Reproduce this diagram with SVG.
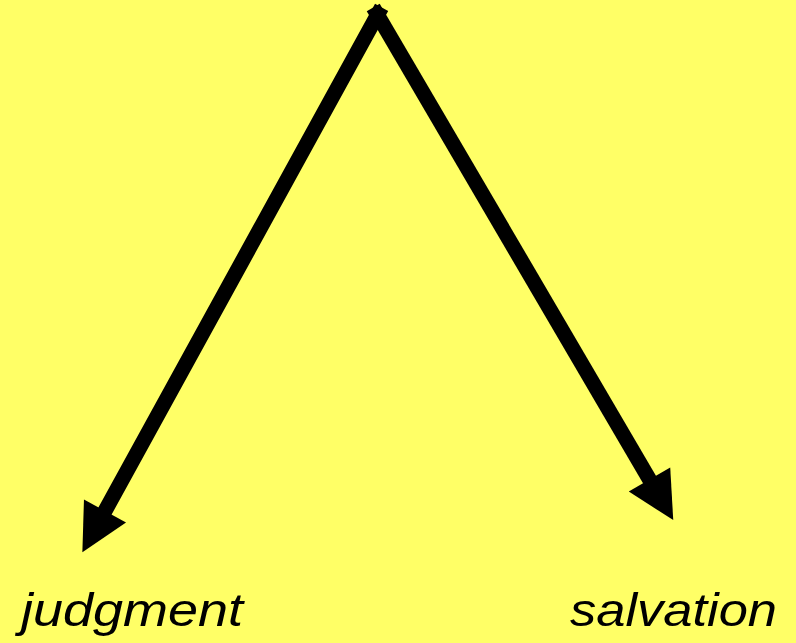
<svg xmlns="http://www.w3.org/2000/svg" width="796" height="643" viewBox="0 0 796 643">
  <style>
    .conn { stroke: #000; stroke-width: 15; stroke-linecap: square; fill: none; }
    .label { font-family: "Liberation Sans", Arial, sans-serif; font-style: italic; font-size: 47px; fill: #000; }
  </style>
  <defs>
    <marker id="head" markerUnits="userSpaceOnUse" markerWidth="48" markerHeight="50" viewBox="0 -25 48 50" refX="0" refY="0" orient="auto" overflow="visible">
      <path d="M0,-24 L47,0 L0,24 Z" fill="#000"/>
    </marker>
  </defs>
  <rect x="0" y="0" width="796" height="643" fill="#FFFF66"/>
  <g id="connectors">
    <line class="conn" x1="378" y1="14" x2="105" y2="511" marker-end="url(#head)"/>
    <line class="conn" x1="377" y1="14" x2="649.5" y2="479.5" marker-end="url(#head)"/>
  </g>
  <g id="judgment">
    <text class="label" x="21" y="626" textLength="222" lengthAdjust="spacingAndGlyphs">judgment</text>
  </g>
  <g id="salvation">
    <text class="label" x="570" y="626" textLength="207" lengthAdjust="spacingAndGlyphs">salvation</text>
  </g>
</svg>
